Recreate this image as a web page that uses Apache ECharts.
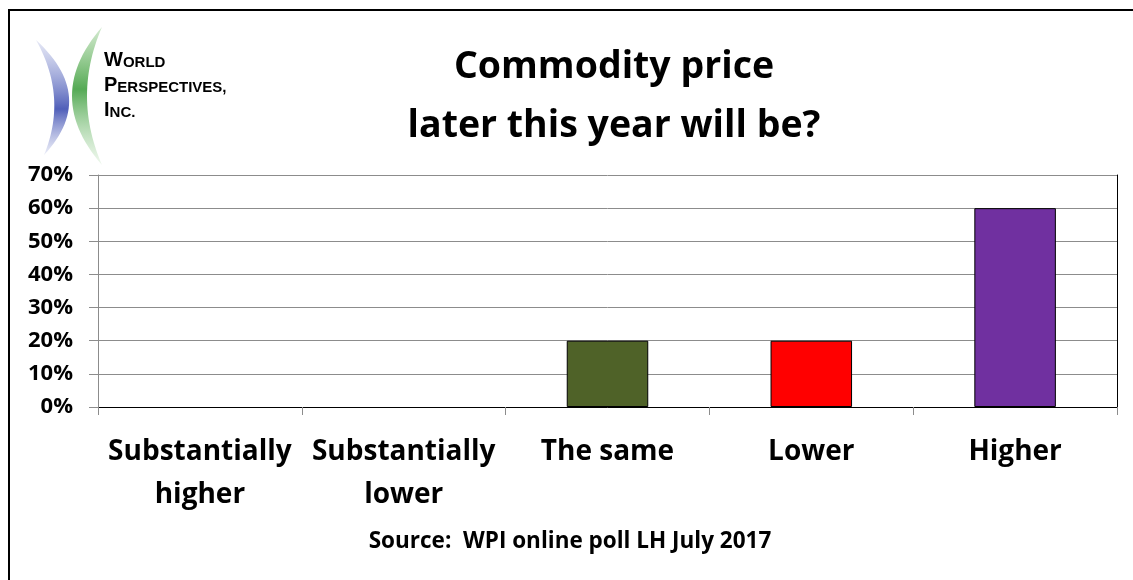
<!DOCTYPE html>
<html>
<head>
<meta charset="utf-8">
<script src="https://cdn.jsdelivr.net/npm/echarts@6/dist/echarts.min.js"></script>
<style>
html,body{margin:0;padding:0;background:#fff;}
#chart{width:1133px;height:580px;}
</style>
</head>
<body>
<div id="chart"></div>
<script>
const categories = ['Substantially\nhigher', 'Substantially\nlower', 'The same', 'Lower', 'Higher'];
const values = [0, 0, 0.2, 0.2, 0.6];
const barColors = ['#4F6228', '#4F6228', '#4F6228', '#FF0000', '#7030A0'];
const titleText = 'Commodity price\nlater this year will be?';
const sourceText = 'Source:  WPI online poll LH July 2017';

const FONT = 'Open Sans';
const chart = echarts.init(document.getElementById('chart'), null, {renderer: 'canvas'});

const barData = values.map((v, i) => ({
  value: v,
  itemStyle: {color: barColors[i], borderColor: '#000', borderWidth: v === 0 ? 0 : 1}
}));

// decorative logo crescent outline from two quadratic curves
function crescent(p0, cOut, p1, cIn) {
  const pts = [];
  const N = 30;
  for (let i = 0; i <= N; i++) {
    const t = i / N, u = 1 - t;
    pts.push([u*u*p0[0] + 2*u*t*cOut[0] + t*t*p1[0], u*u*p0[1] + 2*u*t*cOut[1] + t*t*p1[1]]);
  }
  for (let i = N; i >= 0; i--) {
    const t = i / N, u = 1 - t;
    pts.push([u*u*p0[0] + 2*u*t*cIn[0] + t*t*p1[0], u*u*p0[1] + 2*u*t*cIn[1] + t*t*p1[1]]);
  }
  return pts;
}

const option = {
  backgroundColor: '#fff',
  animation: false,
  title: [{
    text: titleText,
    left: 609, top: 33, textAlign: 'center',
    textStyle: {fontFamily: FONT, fontWeight: 'bold', fontSize: 37.5, lineHeight: 59, color: '#000'}
  }, {
    text: sourceText,
    left: 565, top: 525, textAlign: 'center',
    textStyle: {fontFamily: FONT, fontWeight: 'bold', fontSize: 22.5, color: '#000'}
  }],
  grid: {left: 98, top: 175, right: 16, bottom: 173, containLabel: false},
  xAxis: [{
    type: 'category',
    data: categories,
    boundaryGap: true,
    axisLine: {lineStyle: {color: '#8c8c8c', width: 1}},
    axisTick: {show: true, length: 8, lineStyle: {color: '#8c8c8c'}},
    axisLabel: {fontFamily: FONT, fontWeight: 'bold', fontSize: 28, color: '#000', lineHeight: 43, margin: 24, interval: 0}
  }, {
    type: 'category',
    data: categories,
    position: 'top',
    axisLine: {lineStyle: {color: '#000', width: 1}},
    axisTick: {show: false},
    axisLabel: {show: false}
  }],
  yAxis: [{
    type: 'value',
    min: 0, max: 0.7, interval: 0.1,
    axisLine: {show: true, lineStyle: {color: '#8c8c8c', width: 1}},
    axisTick: {show: true, length: 9, lineStyle: {color: '#8c8c8c'}},
    splitLine: {show: true, lineStyle: {color: '#8c8c8c', width: 1}},
    axisLabel: {
      fontFamily: FONT, fontWeight: 'bold', fontSize: 22, color: '#000', margin: 25,
      formatter: v => Math.round(v * 100) + '%'
    }
  }, {
    type: 'value',
    min: 0, max: 0.7, interval: 0.1,
    position: 'right',
    axisLine: {show: true, lineStyle: {color: '#000', width: 1}},
    axisTick: {show: false},
    splitLine: {show: false},
    axisLabel: {show: false}
  }],
  series: [{
    type: 'bar',
    data: barData,
    barWidth: '40%',
    xAxisIndex: 0,
    yAxisIndex: 0
  }],
  graphic: [
    {
      type: 'rect', z: 100, silent: true,
      shape: {x: 9, y: 10, width: 1400, height: 900},
      style: {fill: 'none', stroke: '#000', lineWidth: 2}
    },
    {
      type: 'polygon', z: 100, silent: true,
      shape: {points: crescent([36, 40], [98, 97], [44, 155], [68, 97])},
      style: {fill: {type: 'linear', x: 0, y: 0, x2: 0, y2: 1, colorStops: [
        {offset: 0, color: 'rgba(150,160,215,0.25)'},
        {offset: 0.6, color: 'rgba(80,95,185,1)'},
        {offset: 1, color: 'rgba(150,160,215,0.2)'}]}}
    },
    {
      type: 'polygon', z: 101, silent: true,
      shape: {points: crescent([102, 27], [42, 96], [102, 165], [72, 96])},
      style: {fill: {type: 'linear', x: 0, y: 0, x2: 0, y2: 1, colorStops: [
        {offset: 0, color: 'rgba(110,185,100,0.3)'},
        {offset: 0.45, color: 'rgba(85,170,85,1)'},
        {offset: 1, color: 'rgba(170,215,165,0.2)'}]}}
    },
    {
      type: 'text', z: 100, left: 104, top: 50, silent: true,
      style: {
        text: '{b|W}{s|ORLD}\n{b|P}{s|ERSPECTIVES,}\n{b|I}{s|NC.}',
        rich: {
          b: {fontFamily: 'Liberation Sans', fontWeight: 'bold', fontSize: 20, color: '#1f4a8c', lineHeight: 25, verticalAlign: 'bottom'},
          s: {fontFamily: 'Liberation Sans', fontWeight: 'bold', fontSize: 15, color: '#1f4a8c', lineHeight: 25, verticalAlign: 'bottom'}
        }
      }
    }
  ]
};
chart.setOption(option);
</script>
</body>
</html>
